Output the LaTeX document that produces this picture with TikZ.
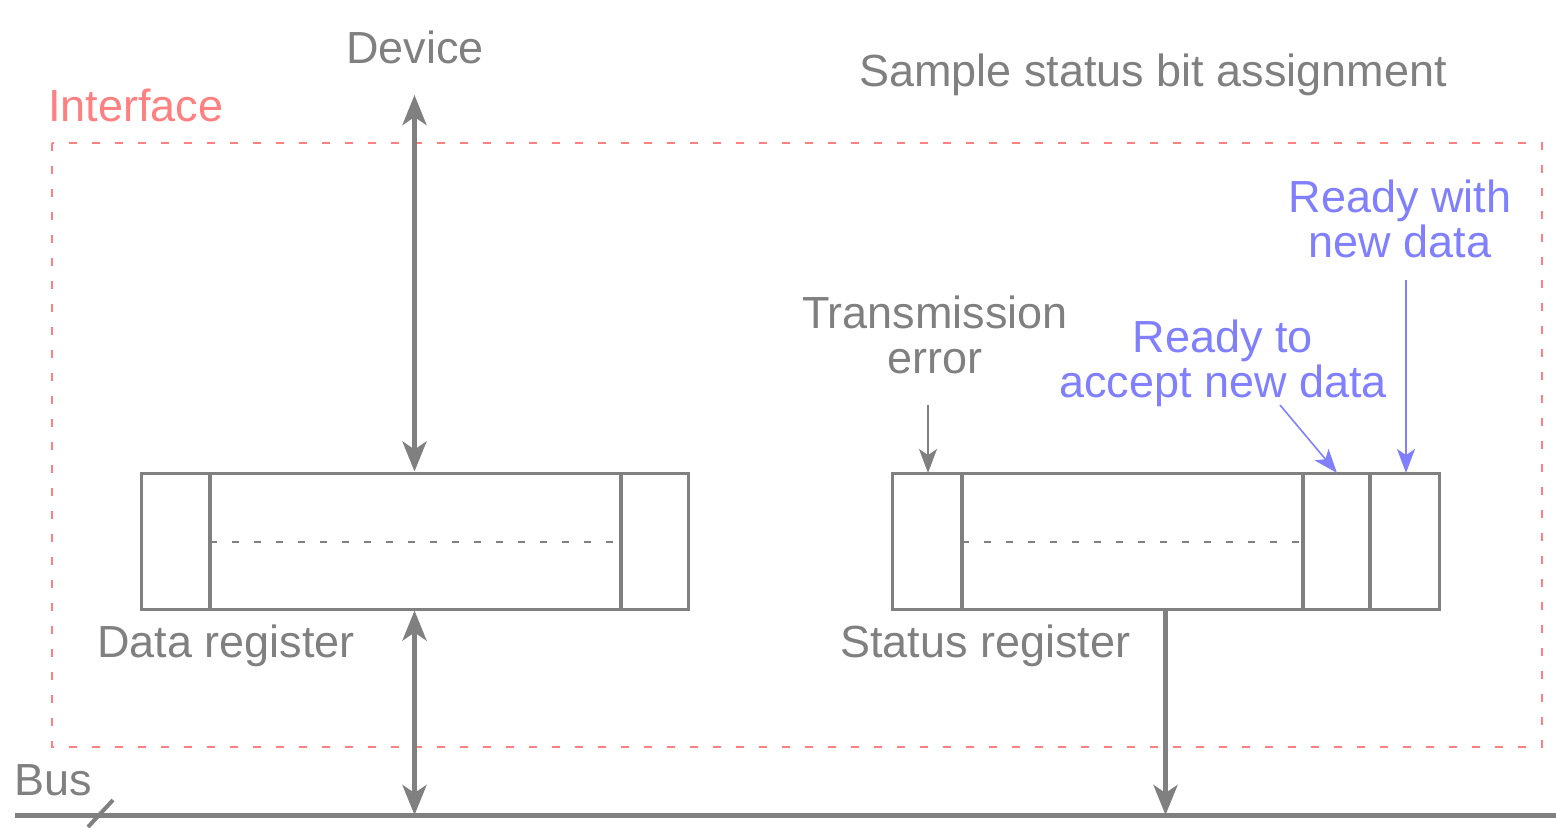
\documentclass[tikz,border=0pt]{standalone}
\usepackage{fontspec}
\setmainfont{Liberation Sans}
\usetikzlibrary{arrows.meta,calc}
\definecolor{dgray}{HTML}{808080}
\definecolor{ired}{HTML}{FF8080}
\definecolor{iblue}{HTML}{8080FF}
\tikzset{
  lbl/.style={inner sep=0pt, font=\fontsize{22.5}{22.5}\selectfont, align=center},
  regbox/.style={draw=dgray, line width=1.5pt, minimum width=273.5pt, minimum height=68pt, inner sep=0pt},
  divider/.style={draw=dgray, line width=2pt},
  midline/.style={draw=dgray, line width=0.6pt, dash pattern=on 3.5pt off 7.5pt},
  mainarrow/.style={draw=dgray, line width=2.5pt, {Stealth[length=15pt,width=12pt,inset=4pt]}-{Stealth[length=15pt,width=12pt,inset=4pt]}},
  onearrow/.style={draw=dgray, line width=2.5pt, -{Stealth[length=15pt,width=12pt,inset=4pt]}},
  thinarrow/.style={line width=0.8pt, -{Stealth[length=12pt,width=9pt,inset=3pt]}},
}
\begin{document}
\begin{tikzpicture}[x=0.5pt,y=-0.5pt]
\useasboundingbox (0,0) rectangle (1556,827);
% interface frame
\draw[ired, line width=0.75pt, dash pattern=on 4pt off 7.5pt] (52,143) rectangle (1542,747);
\node[lbl, text=ired, anchor=base west] (iface) at (48,121) {Interface};
% titles
\node[lbl, text=dgray, anchor=base] (dev) at (415,63) {Device};
\node[lbl, text=dgray, anchor=base] (sample) at (1153,86) {Sample status bit assignment};
% registers
\node[regbox] (dreg) at (414.5,541) {};
\node[regbox] (sreg) at (1165.5,541) {};
\draw[divider] (210,473) -- (210,609);
\draw[divider] (621,473) -- (621,609);
\draw[midline] (210,542) -- (621,542);
\draw[divider] (962,473) -- (962,609);
\draw[divider] (1303,473) -- (1303,609);
\draw[divider] (1370,473) -- (1370,609);
\draw[midline] (962,542) -- (1303,542);
\node[lbl, text=dgray, anchor=base west] (dlab) at (97,657) {Data register};
\node[lbl, text=dgray, anchor=base west] (slab) at (840,657) {Status register};
% bus
\coordinate (busL) at (15,815);
\coordinate (busR) at (1556,815);
\draw[dgray, line width=2.5pt] (busL) -- (busR);
\draw[dgray, line width=2pt] (88,827) -- (113,800);
\node[lbl, text=dgray, anchor=base west] (buslab) at (14,795) {Bus};
% main connectors
\coordinate (devpt) at (414.5,95);
\draw[mainarrow] (devpt) -- (dreg.north);
\draw[mainarrow] (dreg.south |- busL) -- (dreg.south);
\draw[onearrow] (sreg.south) -- (sreg.south |- busL);
% annotations
\node[lbl, text=dgray, anchor=base] (trans) at (935,373) {Transmission\\error};
\coordinate (transA) at (928,405);
\coordinate (transB) at (928,473);
\draw[thinarrow, dgray] (transA) -- (transB);
\node[lbl, text=iblue, anchor=base] (ready) at (1223,397) {Ready to\\accept new data};
\coordinate (readyA) at (1280,405);
\coordinate (readyB) at (1337,473);
\draw[thinarrow, iblue] (readyA) -- (readyB);
\node[lbl, text=iblue, anchor=base] (rwith) at (1400,257) {Ready with\\new data};
\coordinate (rwithA) at (1406,280);
\coordinate (rwithB) at (1406,473);
\draw[thinarrow, iblue] (rwithA) -- (rwithB);
\end{tikzpicture}
\end{document}
